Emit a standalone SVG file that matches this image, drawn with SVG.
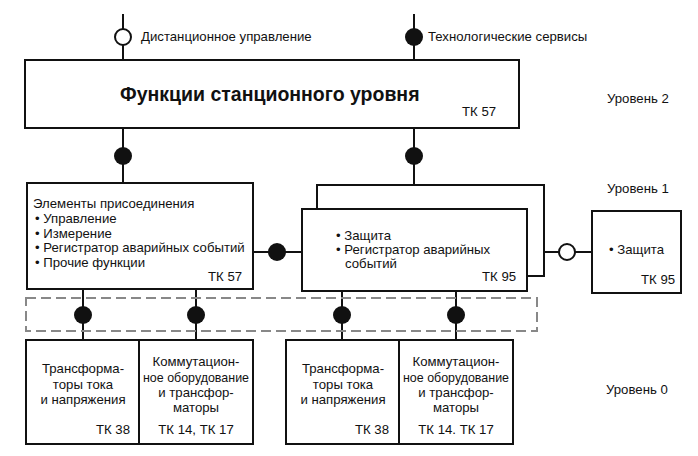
<svg xmlns="http://www.w3.org/2000/svg" width="698" height="456" viewBox="0 0 698 456">
<style>
.b{fill:#fff;stroke:#111;stroke-width:2}
.l{fill:none;stroke:#111;stroke-width:2}
.f{fill:#111}
.o{fill:#fff;stroke:#111;stroke-width:2}
text{font-family:"Liberation Sans",Arial,sans-serif;font-size:13.2px;fill:#111}
.t{font-size:19.5px;font-weight:bold}
.c{text-anchor:middle}
.r{text-anchor:end}
.d{fill:none;stroke:#888;stroke-width:2;stroke-dasharray:10 5}
</style>
<g id="connectors">
<line class="l" x1="123" y1="14" x2="123" y2="60"/>
<line class="l" x1="414" y1="14" x2="414" y2="60"/>
<line class="l" x1="123" y1="128" x2="123" y2="183"/>
<line class="l" x1="414" y1="128" x2="414" y2="185"/>
<polyline class="l" points="317,209 317,185 544,185 544,276 527,276"/>
<line class="l" x1="253" y1="252" x2="302" y2="252"/>
<line class="l" x1="544" y1="252" x2="592" y2="252"/>
<line class="l" x1="83" y1="289" x2="83" y2="340"/>
<line class="l" x1="196" y1="289" x2="196" y2="340"/>
<line class="l" x1="342" y1="291" x2="342" y2="340"/>
<line class="l" x1="456" y1="291" x2="456" y2="340"/>
<circle class="o" cx="123" cy="37" r="8"/>
<circle class="f" cx="414" cy="37" r="9"/>
<circle class="f" cx="123" cy="156" r="9"/>
<circle class="f" cx="414" cy="156" r="9"/>
<circle class="f" cx="277" cy="252" r="9"/>
<circle class="o" cx="567" cy="252" r="8"/>
<circle class="f" cx="83" cy="315" r="9"/>
<circle class="f" cx="196" cy="315" r="9"/>
<circle class="f" cx="342" cy="315" r="9"/>
<circle class="f" cx="456" cy="315" r="9"/>
<text x="141" y="41">Дистанционное управление</text>
<text x="428" y="41">Технологические сервисы</text>
</g>
<g id="bus">
<rect class="d" x="26" y="298" width="511" height="33"/>
</g>
<g id="station">
<rect class="b" x="25" y="60" width="494" height="68"/>
<text class="t" x="120" y="101">Функции станционного уровня</text>
<text x="462" y="116">ТК 57</text>
</g>
<g id="bay">
<rect class="b" x="27" y="183" width="226" height="106"/>
<text x="33" y="208">Элементы присоединения</text>
<text x="35" y="223">• Управление</text>
<text x="35" y="238">• Измерение</text>
<text x="35" y="252">• Регистратор аварийных событий</text>
<text x="35" y="267">• Прочие функции</text>
<text x="208" y="281">ТК 57</text>
</g>
<g id="protection">
<rect class="b" x="302" y="209" width="225" height="82"/>
<text x="336" y="240">• Защита</text>
<text x="336" y="254">• Регистратор аварийных</text>
<text x="345" y="268">событий</text>
<text x="482" y="281">ТК 95</text>
</g>
<g id="protection2">
<rect class="b" x="592" y="211" width="89" height="82"/>
<text x="609" y="254">• Защита</text>
<text x="641" y="284">ТК 95</text>
</g>
<g id="ct1">
<rect class="b" x="26" y="340" width="113" height="104"/>
<text class="c" x="83" y="373">Трансформа-</text>
<text class="c" x="83" y="389">торы тока</text>
<text class="c" x="83" y="404">и напряжения</text>
<text class="r" x="130" y="434">ТК 38</text>
</g>
<g id="sw1">
<rect class="b" x="139" y="340" width="114" height="104"/>
<text class="c" x="196" y="366">Коммутацион-</text>
<text class="c" x="196" y="382" textLength="106" lengthAdjust="spacingAndGlyphs">ное оборудование</text>
<text class="c" x="196" y="397">и трансфор-</text>
<text class="c" x="196" y="412">маторы</text>
<text class="c" x="196" y="434">ТК 14, ТК 17</text>
</g>
<g id="ct2">
<rect class="b" x="286" y="340" width="113" height="104"/>
<text class="c" x="343" y="373">Трансформа-</text>
<text class="c" x="343" y="389">торы тока</text>
<text class="c" x="343" y="404">и напряжения</text>
<text class="r" x="389" y="434">ТК 38</text>
</g>
<g id="sw2">
<rect class="b" x="399" y="340" width="114" height="104"/>
<text class="c" x="456" y="366">Коммутацион-</text>
<text class="c" x="456" y="382" textLength="106" lengthAdjust="spacingAndGlyphs">ное оборудование</text>
<text class="c" x="456" y="397">и трансфор-</text>
<text class="c" x="456" y="412">маторы</text>
<text class="c" x="456" y="434">ТК 14. ТК 17</text>
</g>
<g id="levels">
<text x="607" y="103">Уровень 2</text>
<text x="607" y="193">Уровень 1</text>
<text x="606" y="394">Уровень 0</text>
</g>
</svg>
